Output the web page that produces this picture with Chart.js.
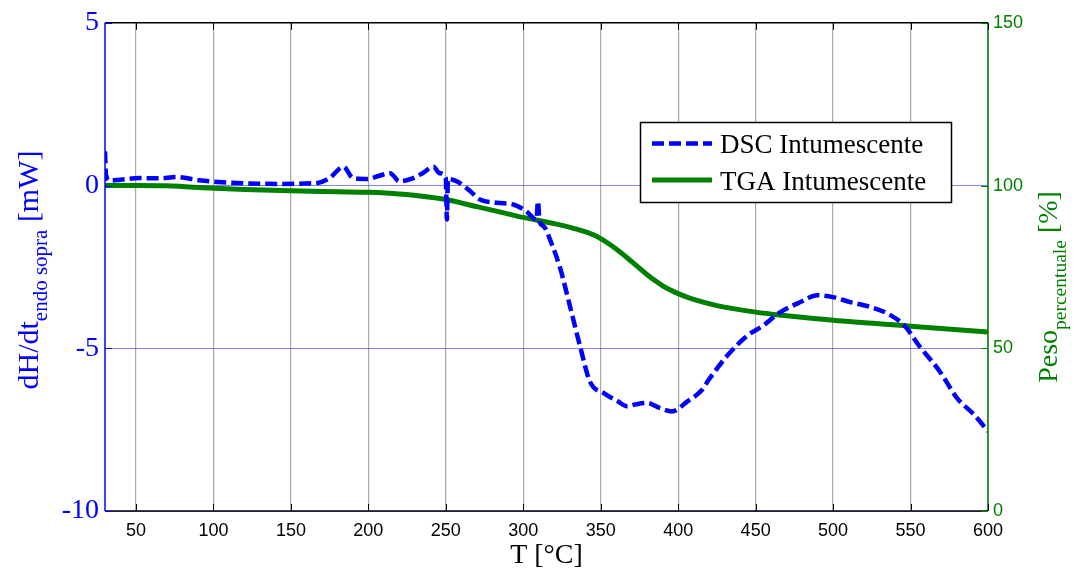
<!DOCTYPE html>
<html>
<head>
<meta charset="utf-8">
<script src="https://cdn.jsdelivr.net/npm/chart.js@4.4.1/dist/chart.umd.min.js"></script>
<style>
  html, body { margin: 0; padding: 0; background: #ffffff; }
  #wrap { width: 1077px; height: 572px; }
</style>
</head>
<body>
<div id="wrap"><canvas id="c" width="1077" height="572"></canvas></div>
<script>
// DSC heat flow [mW] vs temperature [°C]
const dscT = [30, 30.6, 33, 40, 52, 65, 76, 91, 115, 141, 167, 175, 184, 190, 199, 207, 214, 220, 229, 235, 242, 246, 250, 250.7, 251.4, 257, 266, 272, 283, 294, 302, 308.5, 309.5, 310.5, 313, 318, 324, 330, 337, 343, 352, 361, 367, 373, 380, 388, 396, 406, 415, 420, 432, 445, 455, 465, 479, 490, 500, 511, 524, 535, 546, 556, 569, 580, 591, 600];
const dscVal = [1.05, 0.35, 0.15, 0.18, 0.23, 0.22, 0.26, 0.16, 0.08, 0.05, 0.08, 0.23, 0.58, 0.23, 0.2, 0.3, 0.38, 0.13, 0.23, 0.38, 0.58, 0.38, 0.23, -1.04, 0.2, 0.13, -0.18, -0.43, -0.53, -0.59, -0.79, -1.05, -0.48, -1.1, -1.24, -1.75, -2.57, -3.68, -5.0, -6.02, -6.38, -6.63, -6.78, -6.72, -6.68, -6.83, -6.94, -6.63, -6.3, -5.95, -5.21, -4.6, -4.3, -3.92, -3.58, -3.37, -3.43, -3.58, -3.73, -3.93, -4.3, -4.95, -5.72, -6.53, -7.04, -7.55];

// TGA residual mass [%] vs temperature [°C]
const tgaT = [30, 50, 70, 90, 120, 150, 180, 200, 220, 240, 250, 270, 290, 300, 320, 335, 345, 350, 355, 360, 365, 370, 375, 380, 385, 390, 395, 400, 410, 425, 450, 470, 500, 550, 600];
const tgaVal = [100, 100, 99.9, 99.4, 98.8, 98.4, 98.1, 97.9, 97.4, 96.4, 95.7, 93.5, 91.3, 90.2, 88.3, 86.5, 84.9, 83.7, 82.2, 80.5, 78.6, 76.6, 74.6, 72.6, 70.8, 69.2, 67.9, 66.8, 65.0, 63.1, 61.1, 60.0, 58.6, 56.8, 55.0];

const xTicks = [50, 100, 150, 200, 250, 300, 350, 400, 450, 500, 550, 600];
const leftTicks = [-10, -5, 0, 5];
const rightTicks = [0, 50, 100, 150];

const BLUE = '#0000ff';
const GREEN = '#008000';
const SERIF = '"Liberation Serif", "Times New Roman", serif';
const SANS = '"Liberation Sans", Arial, sans-serif';

const toPts = (xs, ys) => xs.map((x, i) => ({ x: x, y: ys[i] }));

// Frame, inward tick marks, axis titles (with subscripts) and legend
const decorations = {
  id: 'decorations',
  afterDraw(chart) {
    const ctx = chart.ctx;
    const a = chart.chartArea;
    const xs = chart.scales.x, yl = chart.scales.y, yr = chart.scales.y1;
    ctx.save();

    // frame
    ctx.lineWidth = 1.5;
    ctx.strokeStyle = '#000';
    ctx.beginPath();
    ctx.moveTo(a.left, a.top); ctx.lineTo(a.right, a.top);
    ctx.moveTo(a.left, a.bottom); ctx.lineTo(a.right, a.bottom);
    ctx.stroke();
    ctx.strokeStyle = BLUE;
    ctx.beginPath(); ctx.moveTo(a.left, a.top); ctx.lineTo(a.left, a.bottom); ctx.stroke();
    ctx.strokeStyle = GREEN;
    ctx.beginPath(); ctx.moveTo(a.right, a.top); ctx.lineTo(a.right, a.bottom); ctx.stroke();

    // inward ticks
    const tl = 7;
    ctx.lineWidth = 1;
    ctx.strokeStyle = '#000';
    ctx.beginPath();
    xTicks.forEach(v => {
      const px = Math.round(xs.getPixelForValue(v)) + 0.5;
      ctx.moveTo(px, a.bottom); ctx.lineTo(px, a.bottom - tl);
      ctx.moveTo(px, a.top); ctx.lineTo(px, a.top + tl);
    });
    ctx.stroke();
    ctx.strokeStyle = BLUE;
    ctx.beginPath();
    leftTicks.forEach(v => {
      const py = Math.round(yl.getPixelForValue(v)) + 0.5;
      ctx.moveTo(a.left, py); ctx.lineTo(a.left + tl, py);
    });
    ctx.stroke();
    ctx.strokeStyle = GREEN;
    ctx.beginPath();
    rightTicks.forEach(v => {
      const py = Math.round(yr.getPixelForValue(v)) + 0.5;
      ctx.moveTo(a.right, py); ctx.lineTo(a.right - tl, py);
    });
    ctx.stroke();

    // x title
    ctx.fillStyle = '#000';
    ctx.font = '28px ' + SERIF;
    ctx.textAlign = 'center';
    ctx.textBaseline = 'alphabetic';
    ctx.fillText('T [°C]', (a.left + a.right) / 2, 563);

    // rotated title with subscript
    function vTitle(cx, cy, main, sub, tail, color, mainSize, subSize) {
      ctx.save();
      ctx.translate(cx, cy);
      ctx.rotate(-Math.PI / 2);
      ctx.fillStyle = color;
      ctx.textAlign = 'left';
      const fMain = mainSize + 'px ' + SERIF, fSub = subSize + 'px ' + SERIF;
      ctx.font = fMain; const w1 = ctx.measureText(main).width; const w3 = ctx.measureText(tail).width;
      ctx.font = fSub; const w2 = ctx.measureText(sub).width;
      let x = -(w1 + w2 + w3) / 2;
      ctx.font = fMain; ctx.fillText(main, x, 0); x += w1;
      ctx.font = fSub; ctx.fillText(sub, x, 9); x += w2;
      ctx.font = fMain; ctx.fillText(tail, x, 0);
      ctx.restore();
    }
    vTitle(38, 270, 'dH/dt', 'endo sopra', ' [mW]', BLUE, 30, 21);
    vTitle(1057, 287, 'Peso', 'percentuale', ' [%]', GREEN, 28, 19.5);

    // legend
    const lx = 640.5, ly = 122.5, lw = 311, lh = 80;
    ctx.fillStyle = '#fff';
    ctx.fillRect(lx, ly, lw, lh);
    ctx.strokeStyle = '#000';
    ctx.lineWidth = 1.5;
    ctx.strokeRect(lx, ly, lw, lh);
    const rows = [{ y: 143.5, base: 153 }, { y: 180, base: 190 }];
    chart.data.datasets.forEach((ds, i) => {
      const r = rows[i];
      ctx.save();
      ctx.strokeStyle = ds.borderColor;
      ctx.lineWidth = ds.borderWidth;
      ctx.setLineDash(ds.borderDash || []);
      ctx.beginPath();
      ctx.moveTo(652, r.y); ctx.lineTo(712, r.y);
      ctx.stroke();
      ctx.restore();
      ctx.fillStyle = '#000';
      ctx.font = '27px ' + SERIF;
      ctx.textAlign = 'left';
      ctx.fillText(ds.label, 720, r.base);
    });
    ctx.restore();
  }
};

new Chart(document.getElementById('c'), {
  type: 'line',
  data: {
    datasets: [
      {
        label: 'DSC Intumescente',
        data: toPts(dscT, dscVal),
        yAxisID: 'y',
        borderColor: BLUE,
        borderWidth: 4.5,
        borderDash: [12, 5],
        pointRadius: 0,
        fill: false,
        cubicInterpolationMode: 'monotone'
      },
      {
        label: 'TGA Intumescente',
        data: toPts(tgaT, tgaVal),
        yAxisID: 'y1',
        borderColor: GREEN,
        borderWidth: 5,
        pointRadius: 0,
        fill: false,
        cubicInterpolationMode: 'monotone'
      }
    ]
  },
  options: {
    responsive: false,
    animation: false,
    layout: { autoPadding: false, padding: { top: 18.5, left: 0, right: 0, bottom: 0 } },
    plugins: { legend: { display: false }, tooltip: { enabled: false } },
    scales: {
      x: {
        type: 'linear',
        min: 30, max: 600,
        afterBuildTicks: s => { s.ticks = xTicks.map(v => ({ value: v })); },
        afterFit: s => { s.height = 61; },
        grid: { color: 'rgba(140,140,140,0.75)', lineWidth: 1.2, drawTicks: false },
        border: { display: false },
        ticks: { color: '#000', font: { family: SANS, size: 18 }, padding: 9, maxRotation: 0, autoSkip: false }
      },
      y: {
        position: 'left',
        min: -10, max: 5,
        afterBuildTicks: s => { s.ticks = leftTicks.map(v => ({ value: v })); },
        afterFit: s => { s.width = 105; },
        grid: { color: 'rgba(90,90,255,0.75)', lineWidth: 1, drawTicks: false },
        border: { display: false },
        ticks: { color: BLUE, font: { family: SERIF, size: 28 }, padding: 6 }
      },
      y1: {
        position: 'right',
        min: 0, max: 150,
        afterBuildTicks: s => { s.ticks = rightTicks.map(v => ({ value: v })); },
        afterFit: s => { s.width = 89; },
        grid: { display: false, drawTicks: false },
        border: { display: false },
        ticks: { color: GREEN, font: { family: SANS, size: 18 }, padding: 5 }
      }
    }
  },
  plugins: [decorations]
});
</script>
</body>
</html>
